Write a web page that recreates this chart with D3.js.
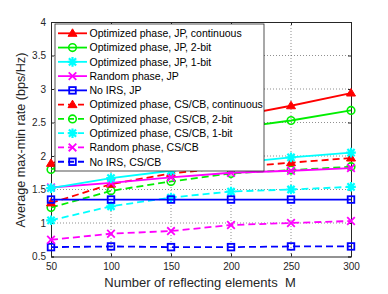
<!DOCTYPE html>
<html><head><meta charset="utf-8">
<script src="https://cdn.jsdelivr.net/npm/d3@7"></script>
<style>body{margin:0;background:#fff}svg{display:block}</style>
</head><body>
<svg id="c" width="388" height="294"></svg>
<script>
const M = [50, 100, 150, 200, 250, 300];
const jpCont   = [1.89, 2.13, 2.36, 2.58, 2.75, 2.94];
const jp2bit   = [1.80, 2.01, 2.21, 2.41, 2.53, 2.68];
const jp1bit   = [1.52, 1.67, 1.78, 1.89, 1.98, 2.05];
const jpRand   = [1.53, 1.60, 1.68, 1.75, 1.78, 1.82];
const jpNoIRS  = [1.35, 1.35, 1.35, 1.35, 1.35, 1.35];
const csCont   = [1.30, 1.58, 1.74, 1.83, 1.90, 1.97];
const cs2bit   = [1.23, 1.48, 1.62, 1.74, 1.79, 1.84];
const cs1bit   = [1.04, 1.25, 1.38, 1.47, 1.50, 1.54];
const csRand   = [0.75, 0.84, 0.88, 0.97, 1.00, 1.03];
const csNoIRS  = [0.64, 0.65, 0.64, 0.64, 0.65, 0.65];
const xTicks = [50, 100, 150, 200, 250, 300];
const yTicks = [0.5, 1, 1.5, 2, 2.5, 3, 3.5, 4];
const labels = ["Optimized phase, JP, continuous","Optimized phase, JP, 2-bit","Optimized phase, JP, 1-bit","Random phase, JP","No IRS, JP","Optimized phase, CS/CB, continuous","Optimized phase, CS/CB, 2-bit","Optimized phase, CS/CB, 1-bit","Random phase, CS/CB","No IRS, CS/CB"];
const colors = ["#ff0000","#00ee00","#00ffff","#ff00ff","#0000ff","#ff0000","#00ee00","#00ffff","#ff00ff","#0000ff"];
const markers = ["tri","circ","star","x","sq","tri","circ","star","x","sq"];
const dashed = [false,false,false,false,false,true,true,true,true,true];
const values = [jpCont,jp2bit,jp1bit,jpRand,jpNoIRS,csCont,cs2bit,cs1bit,csRand,csNoIRS];

const L=51,R=351,T=22,B=256.5;
const x=d3.scaleLinear().domain([50,300]).range([L,R]);
const y=d3.scaleLinear().domain([0.5,4]).range([B,T]);
const svg=d3.select("#c");
const font="Liberation Sans, Arial, sans-serif";

// grid
const g=svg.append("g");
g.selectAll(".gx").data(xTicks.slice(1,-1)).enter().append("line")
 .attr("x1",d=>x(d)).attr("x2",d=>x(d)).attr("y1",T).attr("y2",B)
 .attr("stroke","#444").attr("stroke-width",0.6).attr("stroke-dasharray","1,2");
g.selectAll(".gy").data(yTicks.slice(1,-1)).enter().append("line")
 .attr("y1",d=>y(d)).attr("y2",d=>y(d)).attr("x1",L).attr("x2",R)
 .attr("stroke","#444").attr("stroke-width",0.6).attr("stroke-dasharray","1,2");

// axes
svg.append("g").attr("transform",`translate(0,${B})`)
 .call(d3.axisBottom(x).tickValues(xTicks).tickSize(-3).tickPadding(6).tickFormat(d3.format("d")));
svg.append("g").attr("transform",`translate(${L},0)`)
 .call(d3.axisLeft(y).tickValues(yTicks).tickSize(-3).tickPadding(5).tickFormat(d=>String(d)));
svg.append("g").attr("transform",`translate(0,${T})`)
 .call(d3.axisTop(x).tickValues(xTicks).tickSize(-3).tickFormat(""));
svg.append("g").attr("transform",`translate(${R},0)`)
 .call(d3.axisRight(y).tickValues(yTicks).tickSize(-3).tickFormat(""));
svg.selectAll(".domain").attr("stroke","#262626");
svg.selectAll(".tick line").attr("stroke","#262626");
svg.selectAll(".tick text").attr("font-family",font).attr("font-size",10).attr("fill","#262626");

function marker(sel,type,color,cx,cy){
  const s=4;
  if(type==="tri"){
    sel.append("path").attr("d",`M${cx},${cy-s-0.5}L${cx+s+0.5},${cy+s-1}L${cx-s-0.5},${cy+s-1}Z`)
     .attr("fill",color).attr("stroke",color).attr("stroke-width",1);
  } else if(type==="circ"){
    sel.append("circle").attr("cx",cx).attr("cy",cy).attr("r",3.8)
     .attr("fill","none").attr("stroke",color).attr("stroke-width",1.6);
  } else if(type==="star"){
    const r=4.8;
    let d=`M${cx-r},${cy}L${cx+r},${cy}M${cx},${cy-r}L${cx},${cy+r}`;
    const q=r*0.75;
    d+=`M${cx-q},${cy-q}L${cx+q},${cy+q}M${cx-q},${cy+q}L${cx+q},${cy-q}`;
    sel.append("path").attr("d",d).attr("stroke",color).attr("stroke-width",2.2).attr("fill","none");
  } else if(type==="x"){
    const r=3.8;
    sel.append("path").attr("d",`M${cx-r},${cy-r}L${cx+r},${cy+r}M${cx-r},${cy+r}L${cx+r},${cy-r}`)
     .attr("stroke",color).attr("stroke-width",1.8).attr("fill","none");
  } else if(type==="sq"){
    sel.append("rect").attr("x",cx-3.3).attr("y",cy-3.3).attr("width",6.6).attr("height",6.6)
     .attr("fill","none").attr("stroke",color).attr("stroke-width",1.8);
  }
}

const line=d3.line().x((d,i)=>x(M[i])).y(d=>y(d));
const order=[9,8,7,6,5,4,3,2,1,0];
order.forEach(k=>{
  const gg=svg.append("g");
  gg.append("path").attr("d",line(values[k])).attr("fill","none")
   .attr("stroke",colors[k]).attr("stroke-width",1.8)
   .attr("stroke-dasharray",dashed[k]?"7,4":null);
  values[k].forEach((v,i)=>marker(gg,markers[k],colors[k],x(M[i]),y(v)));
});

// legend
const lg=svg.append("g");
const lx=55,ly=24,lw=209,lh=147;
lg.append("rect").attr("x",lx).attr("y",ly).attr("width",lw).attr("height",lh)
 .attr("fill","#fff").attr("stroke","#262626").attr("stroke-width",0.8);
labels.forEach((t,i)=>{
  const yy=33.3+i*14.27;
  lg.append("line").attr("x1",58).attr("x2",87).attr("y1",yy).attr("y2",yy)
   .attr("stroke",colors[i]).attr("stroke-width",1.8).attr("stroke-dasharray",dashed[i]?"6,4":null);
  marker(lg,markers[i],colors[i],72.5,yy);
  lg.append("text").attr("x",89.5).attr("y",yy+3.8).text(t)
   .attr("font-family",font).attr("font-size",10.5).attr("fill","#000");
});

svg.append("text").attr("x",200).attr("y",287).attr("text-anchor","middle")
 .attr("font-family",font).attr("font-size",13).attr("fill","#262626")
 .attr("xml:space","preserve").style("white-space","pre").text("Number of reflecting elements  M");
svg.append("text").attr("transform","translate(25,140) rotate(-90)").attr("text-anchor","middle")
 .attr("font-family",font).attr("font-size",12.6).attr("fill","#262626")
 .text("Average max-min rate (bps/Hz)");
</script>
</body></html>
